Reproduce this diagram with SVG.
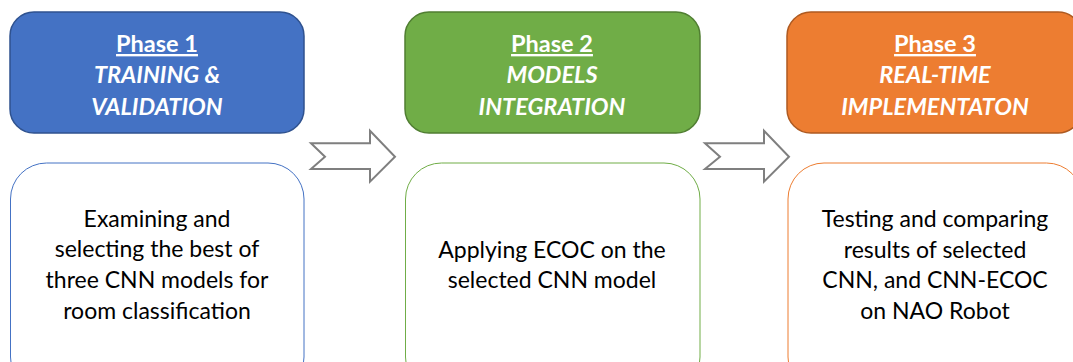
<svg xmlns="http://www.w3.org/2000/svg" width="1073" height="362" viewBox="0 0 1073 362">
<style>
.hd{font-family:Lato,"Open Sans","Liberation Sans",sans-serif;font-size:23.5px;fill:#fff;text-anchor:middle;font-weight:bold}
.ph{text-decoration:underline}
.it{font-style:italic}
.bd{font-family:Lato,"Open Sans","Liberation Sans",sans-serif;font-size:23px;fill:#000;text-anchor:middle}
.arr{fill:#fff;stroke:#7f7f7f;stroke-width:2;stroke-linejoin:miter}
</style>
<rect width="1073" height="362" fill="#fff"/>
<g id="phase1">
<rect x="10" y="12" width="294" height="121" rx="24" fill="#4472C4" stroke="#2F528F" stroke-width="1.5"/>
<text class="hd" x="157" y="52"><tspan class="ph">Phase 1</tspan></text>
<text class="hd it" x="157" y="83">TRAINING &amp;</text>
<text class="hd it" x="157" y="115">VALIDATION</text>
</g>
<g id="body1">
<rect x="10.5" y="163" width="293.5" height="230" rx="36" fill="#fff" stroke="#4472C4" stroke-width="1"/>
<text class="bd" x="157" y="227">Examining and</text>
<text class="bd" x="157" y="257">selecting the best of</text>
<text class="bd" x="157" y="288">three CNN models for</text>
<text class="bd" x="157" y="319">room classification</text>
</g>
<g id="phase2">
<rect x="405" y="12" width="295" height="121" rx="24" fill="#70AD47" stroke="#507E32" stroke-width="1.5"/>
<text class="hd" x="552" y="52"><tspan class="ph">Phase 2</tspan></text>
<text class="hd it" x="552" y="83">MODELS</text>
<text class="hd it" x="552" y="115">INTEGRATION</text>
</g>
<g id="body2">
<rect x="405.5" y="163" width="294.5" height="230" rx="36" fill="#fff" stroke="#70AD47" stroke-width="1"/>
<text class="bd" x="552" y="258">Applying ECOC on the</text>
<text class="bd" x="552" y="288">selected CNN model</text>
</g>
<g id="phase3">
<rect x="787" y="12" width="295" height="121" rx="24" fill="#ED7D31" stroke="#AE5A21" stroke-width="1.5"/>
<text class="hd" x="935" y="52"><tspan class="ph">Phase 3</tspan></text>
<text class="hd it" x="935" y="83">REAL-TIME</text>
<text class="hd it" x="935" y="115">IMPLEMENTATON</text>
</g>
<g id="body3">
<rect x="788" y="163" width="294.5" height="230" rx="36" fill="#fff" stroke="#ED7D31" stroke-width="1"/>
<text class="bd" x="935" y="227">Testing and comparing</text>
<text class="bd" x="935" y="258">results of selected</text>
<text class="bd" x="935" y="288">CNN, and CNN-ECOC</text>
<text class="bd" x="935" y="319">on NAO Robot</text>
</g>
<g id="connectors">
<polygon class="arr" points="311,143.3 370,143.3 370,130.7 395,156.7 370,181.7 370,169 311,169 325,156.7"/>
<polygon class="arr" points="705,143.3 764,143.3 764,130.7 789,156.7 764,181.7 764,169 705,169 720,156.7"/>
</g>
</svg>
